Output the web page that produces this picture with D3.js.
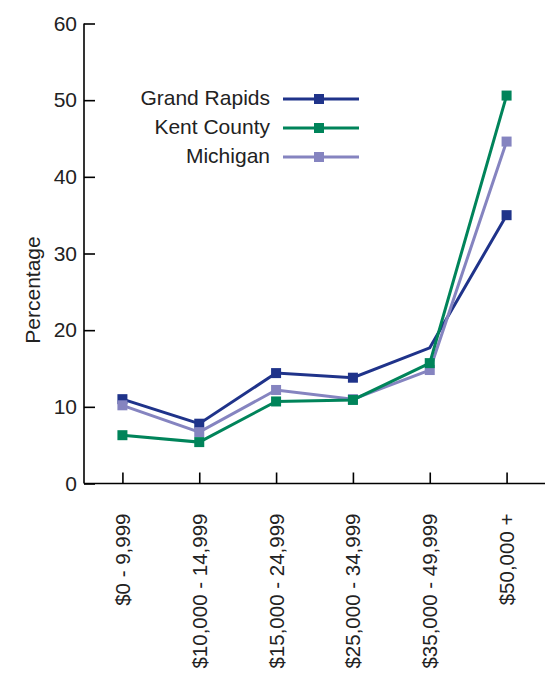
<!DOCTYPE html>
<html><head><meta charset="utf-8">
<script src="https://cdn.jsdelivr.net/npm/d3@7"></script>
<style>body{margin:0;background:#fff}svg{display:block}text{font-family:"Liberation Sans",Arial,sans-serif;fill:#222}</style>
</head><body><svg id="c" width="556" height="676"></svg>
<script>
const categories = ["$0 - 9,999","$10,000 - 14,999","$15,000 - 24,999","$25,000 - 34,999","$35,000 - 49,999","$50,000 +"];
const grandRapids = [11.0, 7.8, 14.4, 13.8, 17.7, 35.0];
const grandRapidsMarkers = [true, true, true, true, false, true];
const kentCounty = [6.3, 5.4, 10.7, 10.9, 15.7, 50.6];
const michigan = [10.2, 6.7, 12.2, 11.0, 14.8, 44.6];
const yTicks = [0, 10, 20, 30, 40, 50, 60];
const seriesNames = ["Grand Rapids", "Kent County", "Michigan"];
const seriesColors = ["#1f338a", "#00845a", "#8584c0"];

const svg = d3.select("#c");
const x = d3.scalePoint().domain(categories).range([84, 545]).padding(0.5);
const y = d3.scaleLinear().domain([0, 60]).range([483.5, 23.5]);
const FONT = "Liberation Sans, Arial, sans-serif";

// y axis
const ya = svg.append("g").attr("transform", "translate(84,0)")
  .call(d3.axisLeft(y).tickValues(yTicks).tickSize(-11).tickPadding(7));
ya.select(".domain").attr("stroke", "#000").attr("stroke-width", 1.6).attr("d", `M0,${y(60)}V${y(0)}`);
ya.selectAll(".tick line").attr("stroke", "#000").attr("stroke-width", 1.6);
ya.selectAll(".tick text").attr("font-size", 21).attr("x", -7).style("fill", "#222")
  .attr("font-family", FONT);

// x axis
const xa = svg.append("g").attr("transform", `translate(0,${y(0)})`)
  .call(d3.axisBottom(x).tickSize(-11).tickPadding(0));
xa.select(".domain").attr("stroke", "#000").attr("stroke-width", 1.6).attr("d", "M84,0H545");
xa.selectAll(".tick line").attr("stroke", "#000").attr("stroke-width", 1.6);
xa.selectAll(".tick text").attr("font-size", 20.5).style("fill", "#222")
  .attr("font-family", FONT)
  .attr("text-anchor", "end").attr("dy", null).attr("y", 0)
  .attr("transform", "translate(7,30) rotate(-90)");

// y title
svg.append("text").attr("transform", "translate(40,290) rotate(-90)")
  .attr("text-anchor", "middle").attr("font-size", 21).text("Percentage");

const line = d3.line().x((d, i) => x(categories[i])).y(d => y(d));
[0, 2, 1].forEach(si => {
  const vals = [grandRapids, kentCounty, michigan][si];
  const col = seriesColors[si];
  svg.append("path").attr("d", line(vals)).attr("fill", "none")
    .attr("stroke", col).attr("stroke-width", 3).attr("stroke-linejoin", "miter");
  svg.append("g").selectAll("rect").data(vals.map((v, i) => ({v, i})).filter(d => si !== 0 || grandRapidsMarkers[d.i]))
    .join("rect")
    .attr("x", d => x(categories[d.i]) - 5).attr("y", d => y(d.v) - 5)
    .attr("width", 10).attr("height", 10).attr("fill", col);
});

// legend
const lg = svg.append("g");
seriesNames.forEach((n, i) => {
  const ly = 98 + i * 29;
  lg.append("text").attr("x", 270).attr("y", ly).attr("dy", "0.35em")
    .attr("text-anchor", "end").attr("font-size", 21).text(n);
  lg.append("line").attr("x1", 283).attr("x2", 359).attr("y1", ly + 1).attr("y2", ly + 1)
    .attr("stroke", seriesColors[i]).attr("stroke-width", 3);
  lg.append("rect").attr("x", 314).attr("y", ly - 4).attr("width", 10).attr("height", 10)
    .attr("fill", seriesColors[i]);
});
</script></body></html>
